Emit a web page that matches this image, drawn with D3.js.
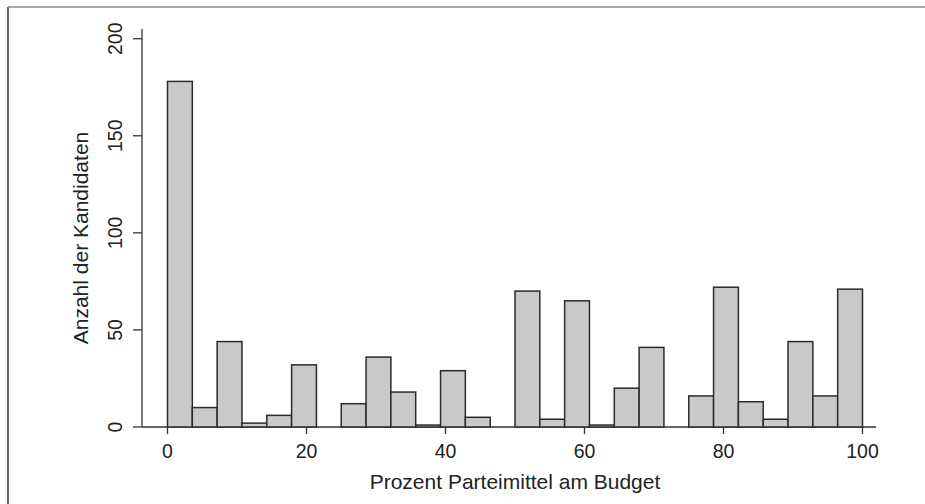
<!DOCTYPE html>
<html>
<head>
<meta charset="utf-8">
<script src="https://cdn.jsdelivr.net/npm/d3@7"></script>
<style>
  body { margin: 0; background: #fff; }
  svg { display: block; }
</style>
</head>
<body>
<div id="svgDiv"></div>
<script>
// histogram, 28 bins of width 100/28 from 0 to 100
var binCount = 28,
    binStart = 0,
    binEnd = 100;
var counts = [178, 10, 44, 2, 6, 32, 0,
              12, 36, 18, 1, 29, 5, 0,
              70, 4, 65, 1, 20, 41, 0,
              16, 72, 13, 4, 44, 16, 71];
var xTicks = [0, 20, 40, 60, 80, 100];
var yTicks = [0, 50, 100, 150, 200];
var xTitle = "Prozent Parteimittel am Budget",
    yTitle = "Anzahl der Kandidaten";

var width = 925, height = 504;
var fontFamily = "'Liberation Sans', Arial, Helvetica, sans-serif",
    axisColor = "#333";

var svg = d3.select("#svgDiv").append("svg")
    .attr("width", width)
    .attr("height", height);

// outer frame (only left + top visible)
svg.append("line")
   .attr("x1", 8).attr("y1", 7).attr("x2", 8).attr("y2", height)
   .attr("stroke", "#444").attr("stroke-width", 1.6);
svg.append("line")
   .attr("x1", 8).attr("y1", 7).attr("x2", width).attr("y2", 7)
   .attr("stroke", "#8a8a8a").attr("stroke-width", 1.6);

var x = d3.scaleLinear().domain([0, 100]).range([167.5, 862.5]),
    y = d3.scaleLinear().domain([0, 205]).range([427, 29]);

var binWidth = (binEnd - binStart) / binCount;
var bins = counts.map(function(c, i){
  return {x0: binStart + i * binWidth, x1: binStart + (i + 1) * binWidth, n: c};
});

// axis lines
svg.append("line")
   .attr("x1", 142).attr("x2", 142)
   .attr("y1", y(0)).attr("y2", y.range()[1])
   .attr("stroke", axisColor).attr("stroke-width", 1.3);
svg.append("line")
   .attr("x1", 142).attr("x2", 876)
   .attr("y1", y(0)).attr("y2", y(0))
   .attr("stroke", axisColor).attr("stroke-width", 1.3);

// y ticks
var yAxis = svg.append("g").attr("transform", "translate(142,0)");
yAxis.selectAll("line.tick")
     .data(yTicks).enter().append("line")
     .attr("class", "tick")
     .attr("x1", -9).attr("x2", 0)
     .attr("y1", function(d){ return y(d); })
     .attr("y2", function(d){ return y(d); })
     .attr("stroke", axisColor).attr("stroke-width", 1.3);
yAxis.selectAll("text")
     .data(yTicks).enter().append("text")
     .attr("transform", function(d){ return "translate(-20," + y(d) + ") rotate(-90)"; })
     .attr("text-anchor", "middle")
     .attr("font-family", fontFamily)
     .attr("font-size", 19.5)
     .attr("fill", "#222")
     .text(function(d){ return d; });

// x ticks
var xAxis = svg.append("g").attr("transform", "translate(0," + y(0) + ")");
xAxis.selectAll("line")
     .data(xTicks).enter().append("line")
     .attr("x1", function(d){ return x(d); })
     .attr("x2", function(d){ return x(d); })
     .attr("y1", 0).attr("y2", 7)
     .attr("stroke", axisColor).attr("stroke-width", 1.3);
xAxis.selectAll("text")
     .data(xTicks).enter().append("text")
     .attr("x", function(d){ return x(d); })
     .attr("y", 31)
     .attr("text-anchor", "middle")
     .attr("font-family", fontFamily)
     .attr("font-size", 19.5)
     .attr("fill", "#222")
     .text(function(d){ return d; });

// bars (empty bins are not drawn)
svg.append("g").selectAll("rect")
   .data(bins.filter(function(b){ return b.n > 0; }))
   .enter().append("rect")
   .attr("x", function(b){ return x(b.x0); })
   .attr("y", function(b){ return y(b.n); })
   .attr("width", function(b){ return x(b.x1) - x(b.x0); })
   .attr("height", function(b){ return y(0) - y(b.n); })
   .attr("fill", "#c8c9cb")
   .attr("stroke", "#2b2b2b")
   .attr("stroke-width", 1.5);

// titles
svg.append("text")
   .attr("x", (x(0) + x(100)) / 2)
   .attr("y", 488.5)
   .attr("text-anchor", "middle")
   .attr("font-family", fontFamily)
   .attr("font-size", 21)
   .attr("fill", "#222")
   .text(xTitle);

svg.append("text")
   .attr("transform", "translate(88,238) rotate(-90)")
   .attr("text-anchor", "middle")
   .attr("font-family", fontFamily)
   .attr("font-size", 21)
   .attr("fill", "#222")
   .text(yTitle);
</script>
</body>
</html>
